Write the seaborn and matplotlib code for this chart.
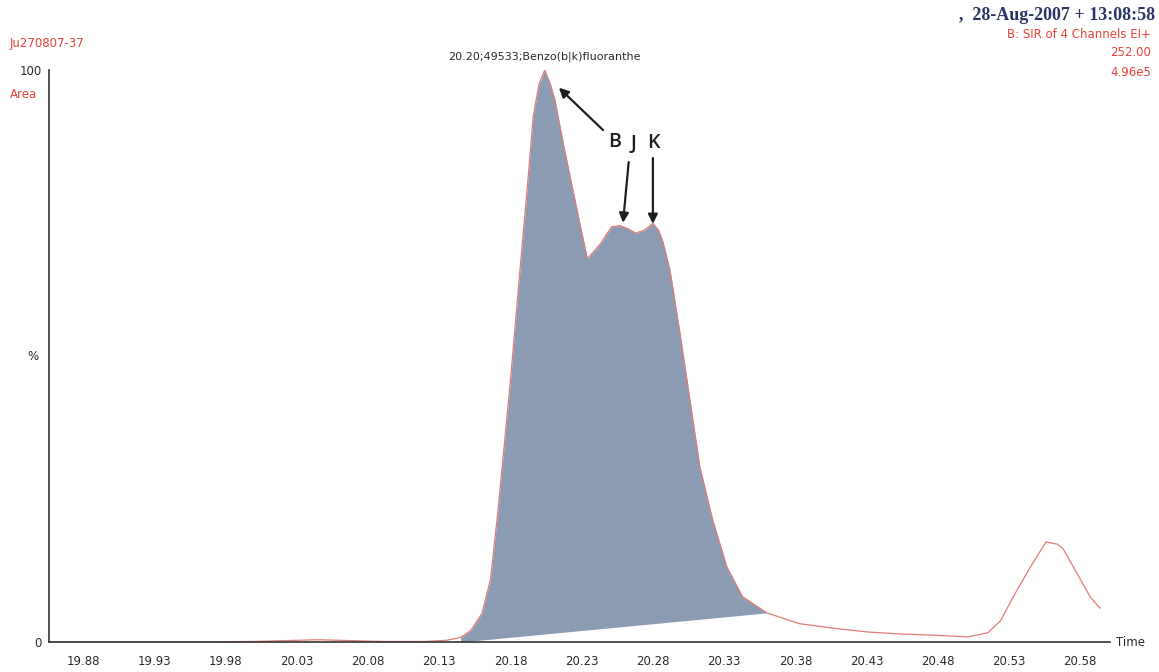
import matplotlib
matplotlib.use("Agg")
import matplotlib.pyplot as plt
import numpy as np
import pandas as pd
import seaborn as sns

# chromatogram trace (retention time in min, intensity in %)
time = [19.856, 19.90, 19.95, 20.00, 20.03, 20.045, 20.06, 20.09, 20.12, 20.135,
        20.145, 20.152, 20.160, 20.166, 20.171, 20.180, 20.187, 20.192, 20.196,
        20.200, 20.204, 20.208, 20.211, 20.218, 20.228, 20.234, 20.243, 20.251,
        20.257, 20.262, 20.268, 20.274, 20.280, 20.284, 20.287, 20.292, 20.299,
        20.306, 20.313, 20.322, 20.332, 20.343, 20.360, 20.383, 20.407, 20.431,
        20.454, 20.477, 20.501, 20.515, 20.524, 20.533, 20.545, 20.556, 20.564,
        20.568, 20.578, 20.587, 20.594]
intensity = [0.0, 0.0, 0.0, 0.1, 0.3, 0.4, 0.3, 0.1, 0.1, 0.3,
             0.8, 2.0, 5.0, 11.0, 22.4, 45.8, 66.0, 80.0, 92.0,
             97.5, 100.0, 97.5, 95.0, 86.0, 74.0, 67.0, 69.6, 72.6,
             72.8, 72.3, 71.5, 72.0, 73.2, 72.0, 70.0, 65.0, 54.0,
             42.3, 30.6, 21.3, 13.1, 7.9, 5.1, 3.2, 2.4, 1.75,
             1.4, 1.2, 0.9, 1.6, 3.7, 7.9, 13.1, 17.5, 17.1,
             16.3, 11.9, 7.9, 5.9]

# integration baseline of the labelled peak
base_t = [20.145, 20.360]
base_y = [0.0, 5.1]

tick_vals = [19.88, 19.93, 19.98, 20.03, 20.08, 20.13, 20.18, 20.23,
             20.28, 20.33, 20.38, 20.43, 20.48, 20.53, 20.58]
tick_labels = ["19.88", "19.93", "19.98", "20.03", "20.08", "20.13", "20.18", "20.23",
               "20.28", "20.33", "20.38", "20.43", "20.48", "20.53", "20.58"]

peak_label = "20.20;49533;Benzo(b|k)fluoranthe"
isomers = ["B", "J", "K"]
isomer_tips = [(20.214, 96.9), (20.259, 73.3), (20.280, 73.1)]

red = "#e8413a"
dark = "#2b2b2b"

sns.set_style("white")
plt.rcParams["font.family"] = ["DejaVu Sans"]

df = pd.DataFrame({"time": time, "intensity": intensity})

fig = plt.figure(figsize=(11.59, 6.72), dpi=100)
ax = fig.add_axes([0.0423, 0.0446, 0.9155, 0.8512])

# shaded integrated area
t = np.array(time)
y = np.array(intensity)
m = (t >= base_t[0]) & (t <= base_t[1])
ax.fill_between(t[m], np.interp(t[m], base_t, base_y), y[m],
                color="#8c9bb4", lw=0, zorder=1)
sns.lineplot(data=df, x="time", y="intensity", color="#e27c78", lw=0.9, ax=ax, zorder=2)

ax.set_xlim(19.856, 20.601)
ax.set_ylim(0, 100)
sns.despine(ax=ax)
for s in ["left", "bottom"]:
    ax.spines[s].set_color("#333333")
    ax.spines[s].set_linewidth(1.2)

ax.set_xticks(tick_vals)
ax.set_xticklabels(tick_labels, fontsize=8.5, color=dark)
ax.set_yticks([0, 100])
ax.set_yticklabels(["0", "100"], fontsize=8.5, color=dark)
ax.tick_params(axis="x", length=0, pad=9)
ax.tick_params(axis="y", length=0, pad=5)
ax.set_xlabel("")
ax.set_ylabel("")
ax.text(-0.015, 0.5, "%", transform=ax.transAxes, ha="center", va="center",
        fontsize=8.5, color=dark)
ax.text(1.006, 0, "Time", transform=ax.transAxes, ha="left", va="center",
        fontsize=8.5, color=dark)

# peak annotation
ax.text(20.204, 102.4, peak_label, ha="center", va="center", fontsize=8,
        color=dark, clip_on=False)
label_pos = [(20.253, 87.4), (20.266, 87.1), (20.280, 87.2)]
tails = [(20.245, 89.5), (20.263, 83.9), (20.280, 84.6)]
for name, (lx, ly), tail, tip in zip(isomers, label_pos, tails, isomer_tips):
    ax.text(lx, ly, name, ha="center", va="center", fontsize=14,
            family=["Open Sans", "DejaVu Sans"], fontweight="semibold", color="#1e1e1e")
    ax.annotate("", xy=tip, xytext=tail,
                arrowprops=dict(arrowstyle="-|>", color="#1e1e1e", lw=1.6,
                                mutation_scale=14, shrinkA=0, shrinkB=0))

# header texts
fig.text(1155 / 1159, 1 - 15 / 672, ",  28-Aug-2007 + 13:08:58", ha="right", va="center",
         fontsize=13, fontweight="bold", color="#2a3566",
         family=["Liberation Serif", "DejaVu Serif"])
for txt, py in [("B: SIR of 4 Channels EI+", 35), ("252.00", 53), ("4.96e5", 72)]:
    fig.text(1151 / 1159, 1 - py / 672, txt, ha="right", va="center",
             fontsize=8.5, color=red)
fig.text(10 / 1159, 1 - 43 / 672, "Ju270807-37", ha="left", va="center",
         fontsize=8.5, color=red)
fig.text(10 / 1159, 1 - 95 / 672, "Area", ha="left", va="center",
         fontsize=8.5, color=red)

fig.savefig("out.png", dpi=100)
